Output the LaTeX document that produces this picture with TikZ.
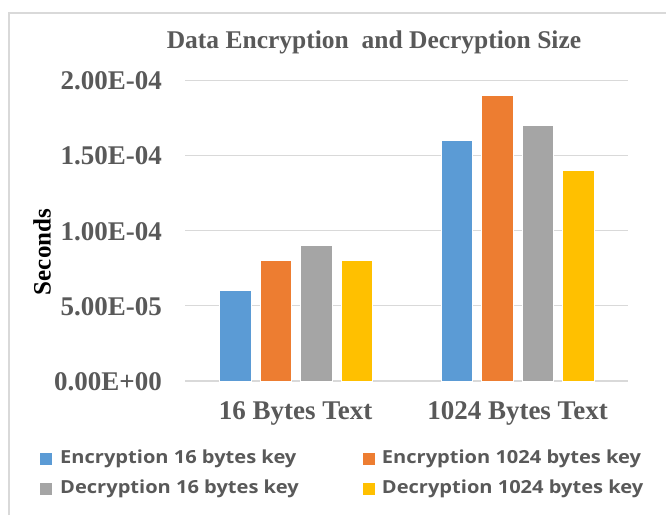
\documentclass[tikz,border=0pt]{standalone}
\usepackage{fontspec}
\setmainfont{Liberation Serif}
\newfontfamily\legfont{Open Sans}
\definecolor{cblue}{HTML}{5B9BD5}
\definecolor{corange}{HTML}{ED7D31}
\definecolor{cgray}{HTML}{A5A5A5}
\definecolor{cyellow}{HTML}{FFC000}
\definecolor{txtgray}{HTML}{595959}
\definecolor{gridc}{HTML}{D9D9D9}
\newcommand{\legscale}[1]{\scalebox{1.115}[1]{#1}}
\tikzset{
  bar/.style={draw=white, line width=0.6pt},
  grid line/.style={draw=gridc, line width=1.3pt},
  tick label/.style={anchor=base east, inner sep=0pt, text=txtgray, font=\fontsize{27}{29}\selectfont\bfseries},
  cat label/.style={anchor=base, inner sep=0pt, text=txtgray, font=\fontsize{27}{29}\selectfont\bfseries},
  leg text/.style={anchor=west, inner sep=0pt, text=txtgray, font=\legfont\fontsize{18}{20}\selectfont\bfseries},
  leg box/.style={minimum size=12pt, inner sep=0pt, draw=none},
}
\begin{document}
\begin{tikzpicture}[x=1pt,y=-1pt]
\useasboundingbox (0,0) rectangle (666,515);
\fill[white] (0,0) rectangle (666,515);
% frame
\draw[gridc, line width=2pt] (9,515) -- (9,13) -- (666,13);
% title
\node[anchor=base, inner sep=0pt, text=txtgray, font=\fontsize{25.5}{28}\selectfont\bfseries] (title) at (374,48) {Data Encryption\ \ and Decryption Size};
% gridlines
\foreach \v/\lab [count=\i] in {0/0.00E+00,5/5.00E-05,10/1.00E-04,15/1.50E-04,20/2.00E-04}{
  \coordinate (gl\i) at (185,{381-\v*15.04});
  \coordinate (gr\i) at (628,{381-\v*15.04});
  \draw[grid line] (gl\i) -- (gr\i);
  \node[tick label] (tick\i) at (162,{381-\v*15.04+9.5}) {\lab};
}
% bars
\foreach \x/\v/\c/\n in {219.5/6/cblue/a1,260/8/corange/a2,300.5/9/cgray/a3,341/8/cyellow/a4,
                         441/16/cblue/b1,481.5/19/corange/b2,522/17/cgray/b3,562.5/14/cyellow/b4}{
  \path[bar, fill=\c] (\x,381) rectangle ({\x+31.5},{381-\v*15.04});
  \coordinate (\n) at ({\x+15.75},381);
}
% axis labels
\node[rotate=90, inner sep=0pt, text=black, font=\fontsize{25}{27}\selectfont\bfseries] (ylab) at (42,252) {Seconds};
\node[cat label] (cat1) at (295.7,419.5) {16 Bytes Text};
\node[cat label] (cat2) at (517.5,419.5) {1024 Bytes Text};
% legend
\node[leg box, fill=cblue] (lb1) at (46,459) {};
\node[leg text] (lt1) at (60,459) {\legscale{Encryption 16 bytes key}};
\node[leg box, fill=corange] (lb2) at (369,459) {};
\node[leg text] (lt2) at (381.7,459) {\legscale{Encryption 1024 bytes key}};
\node[leg box, fill=cgray] (lb3) at (46,489) {};
\node[leg text] (lt3) at (60,489) {\legscale{Decryption 16 bytes key}};
\node[leg box, fill=cyellow] (lb4) at (369,489) {};
\node[leg text] (lt4) at (381.7,489) {\legscale{Decryption 1024 bytes key}};
\end{tikzpicture}
\end{document}
